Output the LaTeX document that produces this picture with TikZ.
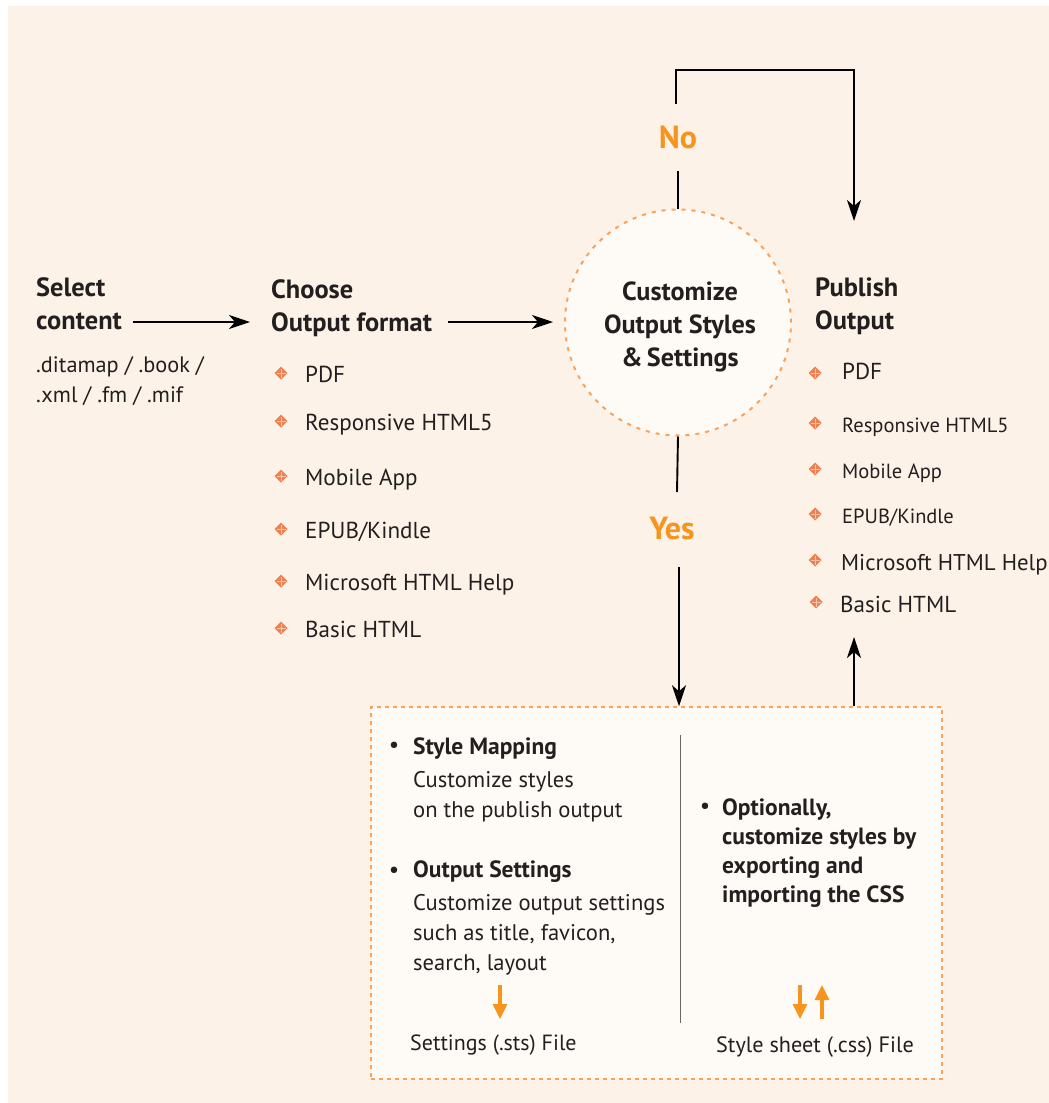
\documentclass[tikz,border=0pt]{standalone}
\usepackage{fontspec}
\setmainfont{PT Sans}
\usetikzlibrary{arrows.meta}
\definecolor{bgc}{HTML}{FDF2E7}
\definecolor{lightc}{HTML}{FEFAF5}
\definecolor{dashc}{HTML}{F7A35C}
\definecolor{bulc}{HTML}{F0804F}
\definecolor{ync}{HTML}{F7941E}
\definecolor{txtc}{HTML}{231F20}
\newcommand\fsz[1]{\fontsize{#1pt}{#1pt}\selectfont}
\newcommand\obul[2]{%
  \fill[bulc] (#1,#2) +(0,-6.5) -- +(6.5,0) -- +(0,6.5) -- +(-6.5,0) -- cycle;
  \draw[bulc!45!white, line width=0.9pt] (#1,#2) +(0,-4.5) -- +(0,4.5) +(-4.5,0) -- +(4.5,0);}
\tikzset{
  lbl/.style={anchor=base west, inner sep=0pt, text=txtc, font=\fsz{23.1}},
  lblb/.style={lbl, font=\fsz{26.4}\bfseries},
  lbls/.style={lbl, font=\fsz{20.5}},
  ext/.style={lbl, font=\fsz{22.3}},
  boxt/.style={lbl, font=\fsz{22.6}},
  boxb/.style={lbl, font=\fsz{23.5}\bfseries},
  ctr/.style={anchor=base, inner sep=0pt, text=txtc, font=\fsz{26.2}\bfseries},
  yn/.style={anchor=base, inner sep=0pt, text=ync, font=\fsz{32}\bfseries},
  flow/.style={draw=black, line width=1.9pt, -{Stealth[length=21pt,width=14pt,inset=6pt]}},
  plain/.style={draw=black, line width=1.9pt},
  oarr/.style={draw=ync, line width=3.2pt, -{Triangle[length=15pt,width=14pt]}},
}
\begin{document}
\begin{tikzpicture}[x=1pt,y=-1pt]
\useasboundingbox (0,0) rectangle (1049,1103);
\fill[bgc] (8,6) rectangle (1049,1103);

% left column
\node[lblb] (selA) at (36,296) {Select};
\node[lblb] (selB) at (36,329) {content};
\node[ext] (ext1) at (36,372) {.ditamap / .book /};
\node[ext] (ext2) at (36,402) {.xml / .fm / .mif};

% choose
\node[lblb] (choA) at (271,298) {Choose};
\node[lblb] (choB) at (271,331) {Output format};
\node[lbl] (l1) at (305,382) {PDF};
\node[lbl] (l2) at (305,430) {Responsive HTML5};
\node[lbl] (l3) at (305,485) {Mobile App};
\node[lbl] (l4) at (305,538) {EPUB/Kindle};
\node[lbl] (l5) at (305,590) {Microsoft HTML Help};
\node[lbl] (l6) at (305,637) {Basic HTML};
\obul{281}{373}\obul{281}{421}\obul{281}{476}\obul{281}{529}\obul{281}{581}\obul{281}{628}

% circle
\node[circle, draw=dashc, fill=lightc, line width=2pt, dash pattern=on 4pt off 6pt, minimum size=226pt, inner sep=0pt] (circ) at (678,322.5) {};
\node[ctr] (c1) at (680,300) {Customize};
\node[ctr] (c2) at (680,333) {Output Styles};
\node[ctr] (c3) at (680,366) {\&\,Settings};

% publish
\node[lblb] (pubA) at (815,296) {Publish};
\node[lblb] (pubB) at (815,329) {Output};
\node[lbl] (r1) at (842,379) {PDF};
\node[lbls] (r2) at (842,432) {Responsive HTML5};
\node[lbls] (r3) at (842,478) {Mobile App};
\node[lbls] (r4) at (842,523) {EPUB/Kindle};
\node[lbl, font=\fsz{22.8}] (r5) at (841,570) {Microsoft HTML Help};
\node[lbl] (r6) at (840,612) {Basic HTML};
\obul{815}{373}\obul{815}{423}\obul{815}{469}\obul{815}{514}\obul{815}{560}\obul{816}{602}

% main arrows
\coordinate (a1s) at (133,322);
\coordinate (a1e) at (250,322);
\coordinate (a2s) at (448,322);
\coordinate (a2e) at (553,322);
\draw[flow] (a1s) -- (a1e);
\draw[flow] (a2s) -- (a2e);

% No loop
\node[yn] (no) at (678,148) {No};
\draw[plain] (circ.north) -- (678,171);
\coordinate (noT) at (676,104);
\coordinate (pubIn) at (854,221);
\draw[flow] (noT) -- (676,70) -| (pubIn);

% Yes
\node[yn] (yes) at (672,539) {Yes};
\draw[plain] (circ.south) -- (677,492);

% box
\node[draw=dashc, fill=lightc, line width=1.5pt, dash pattern=on 4pt off 4pt, minimum width=571pt, minimum height=372pt, inner sep=0pt] (box) at (656.5,893) {};
\draw[flow] (679,567) -- (box.north -| 679,0);
\coordinate (pubUp) at (854,637);
\draw[flow] (box.north -| 854,0) -- (pubUp);
\draw[black!60, line width=1pt] (680,735) -- (680,1023);

% box left
\node[lbl, anchor=base] (d1) at (394,752) {\textbullet};
\node[boxb] (sm) at (413,754) {Style Mapping};
\node[boxt] (sm1) at (413,787) {Customize styles};
\node[boxt] (sm2) at (413,817) {on the publish output};
\node[lbl, anchor=base] (d2) at (394,877) {\textbullet};
\node[boxb] (os) at (413,877) {Output Settings};
\node[boxt] (os1) at (413,910) {Customize output settings};
\node[boxt] (os2) at (413,940) {such as title, favicon,};
\node[boxt] (os3) at (413,970) {search, layout};
\coordinate (sa1) at (500,985);
\coordinate (sa2) at (500,1019);
\draw[oarr] (sa1) -- (sa2);
\node[boxt, font=\fsz{22}] (sts) at (410,1050) {Settings (.sts) File};

% box right
\node[lbl, anchor=base] (d3) at (705,813) {\textbullet};
\node[boxb] (op1) at (722,815) {Optionally,};
\node[boxb] (op2) at (722,844) {customize styles by};
\node[boxb] (op3) at (722,873) {exporting and};
\node[boxb] (op4) at (722,902) {importing the CSS};
\coordinate (ca1) at (800,985);
\coordinate (ca2) at (800,1019);
\coordinate (cb1) at (822,1019);
\coordinate (cb2) at (822,985);
\draw[oarr] (ca1) -- (ca2);
\draw[oarr] (cb1) -- (cb2);
\node[boxt, font=\fsz{22.2}] (css) at (716,1052) {Style sheet (.css) File};
\end{tikzpicture}
\end{document}
